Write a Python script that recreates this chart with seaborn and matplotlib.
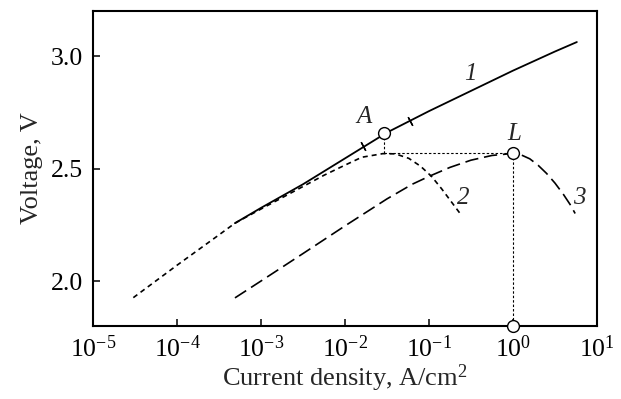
import numpy as np
import pandas as pd
import matplotlib
matplotlib.use("Agg")
import matplotlib.pyplot as plt
import seaborn as sns

# ---- data (log10 of current density in A/cm^2, voltage in V) ----
log_j1 = [-3.31, -3.0, -2.5, -2.0, -1.5, -1.0, -0.5, 0.0, 0.5, 0.76]
v1     = [2.257, 2.325, 2.43, 2.545, 2.66, 2.755, 2.845, 2.935, 3.02, 3.062]

log_j2 = [-4.52, -4.0, -3.5, -3.31, -3.0, -2.5, -2.25, -2.0, -1.8, -1.55, -1.4,
          -1.24, -1.1, -0.97, -0.85, -0.75, -0.63]
v2     = [1.926, 2.07, 2.205, 2.257, 2.32, 2.42, 2.47, 2.515, 2.55, 2.566, 2.565,
          2.545, 2.51, 2.465, 2.41, 2.36, 2.30]

log_j3 = [-3.31, -3.0, -2.5, -2.0, -1.5, -1.2, -1.0, -0.75, -0.5, -0.25, 0.0,
          0.1, 0.2, 0.3, 0.4, 0.5, 0.6, 0.68, 0.74]
v3     = [1.925, 2.0, 2.122, 2.245, 2.365, 2.43, 2.465, 2.505, 2.537, 2.558, 2.567,
          2.56, 2.543, 2.514, 2.478, 2.435, 2.385, 2.34, 2.30]

point_A = (-1.53, 2.656)
point_L = (0.0, 2.567)
tick_marks_1 = ([-1.786, -1.226], [2.60, 2.71])

x_ticks = [-5, -4, -3, -2, -1, 0, 1]
y_ticks = [2.0, 2.5, 3.0]

sns.set_theme(style="ticks")
plt.rcParams["font.family"] = ["Liberation Serif", "DejaVu Serif"]
plt.rcParams["mathtext.fontset"] = "custom"
plt.rcParams["mathtext.rm"] = "Liberation Serif"
plt.rcParams["mathtext.it"] = "Liberation Serif:italic"

fig = plt.figure(figsize=(6.21, 3.99), dpi=100)
ax = fig.add_axes([93/621, 1-326/399, (597-93)/621, (326-11)/399])
ax.set_xscale("log")

def j(vals):
    return [10.0 ** v for v in vals]

d1 = pd.DataFrame({"j": j(log_j1), "V": v1})
d2 = pd.DataFrame({"j": j(log_j2), "V": v2})
d3 = pd.DataFrame({"j": j(log_j3), "V": v3})

sns.lineplot(data=d2, x="j", y="V", ax=ax, color="black", lw=1.2,
             linestyle=(0, (3.0, 2.4)), errorbar=None, sort=False)
sns.lineplot(data=d3, x="j", y="V", ax=ax, color="black", lw=1.2,
             linestyle=(0, (8.0, 3.5)), errorbar=None, sort=False)
sns.lineplot(data=d1, x="j", y="V", ax=ax, color="black", lw=1.3,
             errorbar=None, sort=False)

# guide lines
dot = dict(color="black", lw=0.8, linestyle=(0, (2.2, 1.8)))
ax.plot([10**point_A[0], 10**point_L[0]], [point_L[1], point_L[1]], **dot)
ax.plot([10**point_A[0]]*2, [point_A[1], point_L[1]], **dot)
ax.plot([10**point_L[0]]*2, [point_L[1], 1.8], **dot)

# small tick marks on curve 1
ax.plot(j(tick_marks_1[0]), tick_marks_1[1], linestyle="none",
        marker=(2, 2, 28), markersize=7, color="black", mew=1.0)

# circles
circ = dict(marker="o", markersize=8.5, markerfacecolor="white",
            markeredgecolor="black", mew=1.0, linestyle="none", zorder=5)
ax.plot([10**point_A[0]], [point_A[1]], **circ)
ax.plot([10**point_L[0]], [point_L[1]], **circ)
ax.plot([10**point_L[0]], [1.8], clip_on=False, **circ)

# labels on the chart
lab = dict(fontstyle="italic", ha="center", va="center", fontsize=18)
ax.text(10**-1.77, 2.727, "A", **lab)
ax.text(10**0.01, 2.652, "L", **lab)
ax.text(10**-0.51, 2.922, "1", **lab)
ax.text(10**-0.59, 2.37, "2", **lab)
ax.text(10**0.79, 2.37, "3", **lab)

ax.set_xlim(1e-5, 1e1)
ax.set_ylim(1.8, 3.2)
ax.set_xticks([10.0**e for e in x_ticks])
ax.set_xticklabels([r"$10^{%d}$" % e if e >= 0 else r"$10^{-%d}$" % (-e) for e in x_ticks])
ax.minorticks_off()
ax.set_yticks(y_ticks)
ax.set_yticklabels([f"{v:.1f}" for v in y_ticks])

ax.tick_params(direction="in", length=5, width=1.1, labelsize=18.5, colors="black")
ax.tick_params(axis="x", pad=7)
ax.tick_params(axis="y", pad=7)
for s in ax.spines.values():
    s.set_linewidth(1.5)
    s.set_color("black")

ax.set_xlabel("Current density, A/cm$^2$", fontsize=19, labelpad=0)
ax.set_ylabel("Voltage, V", fontsize=19, labelpad=6)

fig.savefig("out.png", dpi=100)
